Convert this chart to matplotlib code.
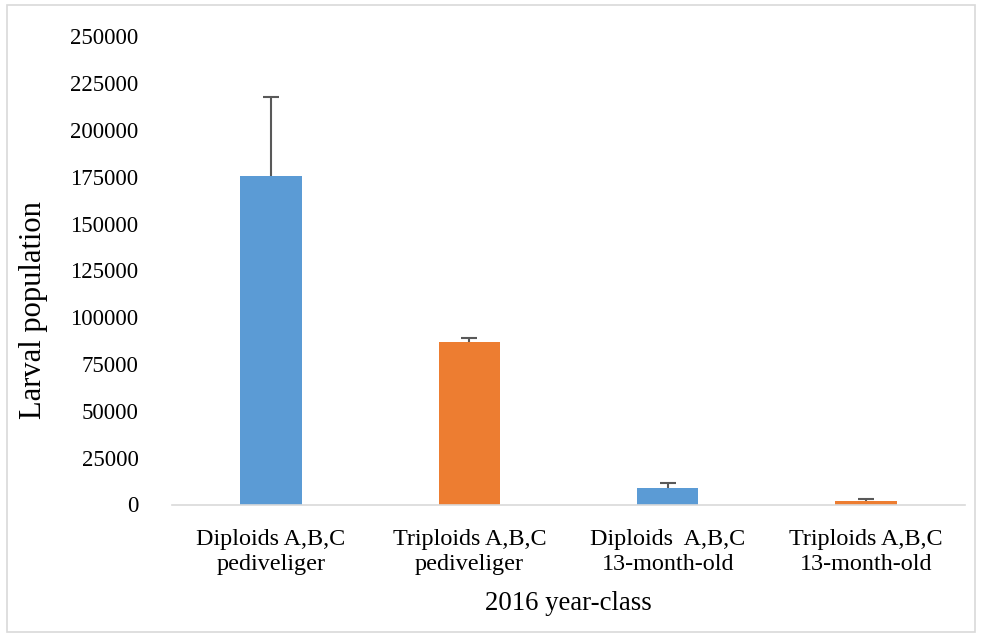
import matplotlib
matplotlib.use("Agg")
import matplotlib.pyplot as plt
from matplotlib.patches import Rectangle

categories = ["Diploids A,B,C\npediveliger", "Triploids A,B,C\npediveliger",
              "Diploids  A,B,C\n13-month-old", "Triploids A,B,C\n13-month-old"]
values = [175600, 86800, 8800, 1700]
errors = [42200, 2300, 2500, 1400]
colors = ["#5B9BD5", "#ED7D31", "#5B9BD5", "#ED7D31"]
yticks = [0, 25000, 50000, 75000, 100000, 125000, 150000, 175000, 200000, 225000, 250000]

plt.rcParams['font.family'] = ['Liberation Serif', 'DejaVu Serif']

fig = plt.figure(figsize=(9.82, 6.40), dpi=100)
fig.patches.append(Rectangle((7/982, 8/640), 968/982, 627/640, transform=fig.transFigure,
                             fill=False, edgecolor="#D9D9D9", linewidth=1.2))
ax = fig.add_axes([172/982, 135.5/640, 793/982, 468/640])

x = range(len(categories))
ax.bar(x, values, width=0.31, color=colors, zorder=3)
ax.errorbar(x, values, yerr=errors, fmt='none', ecolor="#595959",
            elinewidth=1.5, capsize=6, capthick=1.5, zorder=2)

ax.set_xlim(-0.5, 3.5)
ax.set_ylim(0, 250000)
ax.set_yticks(yticks)
ax.set_yticklabels([str(v) for v in yticks], fontsize=16.5)
ax.set_xticks(list(x))
ax.set_xticklabels(categories, fontsize=17.4, linespacing=1.2)
ax.tick_params(axis='both', length=0)
ax.tick_params(axis='y', pad=24)
ax.tick_params(axis='x', pad=18)
for s in ["top", "right", "left"]:
    ax.spines[s].set_visible(False)
ax.spines["bottom"].set_color("#D9D9D9")
ax.spines["bottom"].set_linewidth(1.2)
ax.spines["bottom"].set_zorder(4)

ax.set_ylabel("Larval population", fontsize=22)
ax.yaxis.set_label_coords(-124/793, (504.5-310)/468)
ax.set_xlabel("2016 year-class", fontsize=19.3)
ax.xaxis.set_label_coords(0.5, -(591-504.5)/468)

fig.savefig("out.png", dpi=100)
